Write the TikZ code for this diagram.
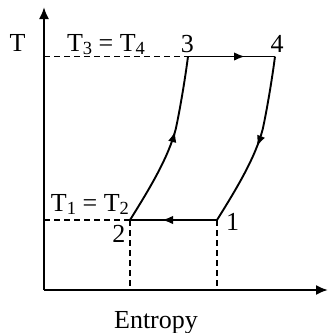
\documentclass[tikz,border=0pt]{standalone}
\usepackage{fontspec}
\setmainfont{Liberation Serif}
\usetikzlibrary{arrows.meta,decorations.markings}
\newcommand{\mysub}[1]{\raisebox{-2.8pt}{\fontsize{18.5}{18.5}\selectfont #1}}
\tikzset{
  lbl/.style={inner sep=0pt, outer sep=0pt, font=\fontsize{26}{26}\selectfont},
  axis/.style={line width=2pt, -{Latex[length=12pt,width=10pt]}},
  proc/.style={line width=1.9pt},
  guide/.style={line width=1.7pt, dash pattern=on 6pt off 4pt},
  midarrow/.style={postaction={decorate}, decoration={markings,
     mark=at position #1 with {\arrow{Latex[length=11pt,width=8.5pt]}}}},
}
\begin{document}
\begin{tikzpicture}[x=1pt,y=-1pt]
\useasboundingbox (0,0) rectangle (329,333);
% axes
\coordinate (O) at (44,290);
\coordinate (ytop) at (44,7);
\coordinate (xend) at (328,290);
\draw[axis] (O) -- (ytop);
\draw[axis] (O) -- (xend);
% state points
\coordinate (p1) at (217,220);
\coordinate (p2) at (130,220);
\coordinate (p3) at (188,56.5);
\coordinate (p4) at (275,56.5);
\coordinate (y3) at (44,56.5);
\coordinate (y2) at (44,220);
\coordinate (x2) at (130,290);
\coordinate (x1) at (217,290);
% guides
\draw[guide] (y3) -- (p3);
\draw[guide] (y2) -- (p2);
\draw[guide] (p2) -- (x2);
\draw[guide] (p1) -- (x1);
% processes
\draw[proc, midarrow=100pt] (p2) .. controls (150,188) and (168,158) .. (175.5,130)
      .. controls (179,115) and (185,80) .. (p3);
\draw[proc, midarrow=57pt] (p3) -- (p4);
\draw[proc, midarrow=92pt] (p4) .. controls (272,80) and (266,115) .. (262.5,130)
      .. controls (255,158) and (237,188) .. (p1);
\draw[proc, midarrow=55pt] (p1) -- (p2);
% labels
\node[lbl, anchor=base west] (tl) at (9.5,51.7) {T};
\node[lbl, anchor=base west] (t34) at (67,51.7) {T\mysub{3} = T\mysub{4}};
\node[lbl, anchor=base west] (t12) at (51,211.7) {T\mysub{1} = T\mysub{2}};
\node[lbl, anchor=base] (l3) at (187.5,52.5) {3};
\node[lbl, anchor=base] (l4) at (277,52.5) {4};
\node[lbl, anchor=base] (l2) at (119,242) {2};
\node[lbl, anchor=base] (l1) at (232.5,230) {1};
\node[lbl, anchor=base] (xl) at (156,328) {Entropy};
\end{tikzpicture}
\end{document}
